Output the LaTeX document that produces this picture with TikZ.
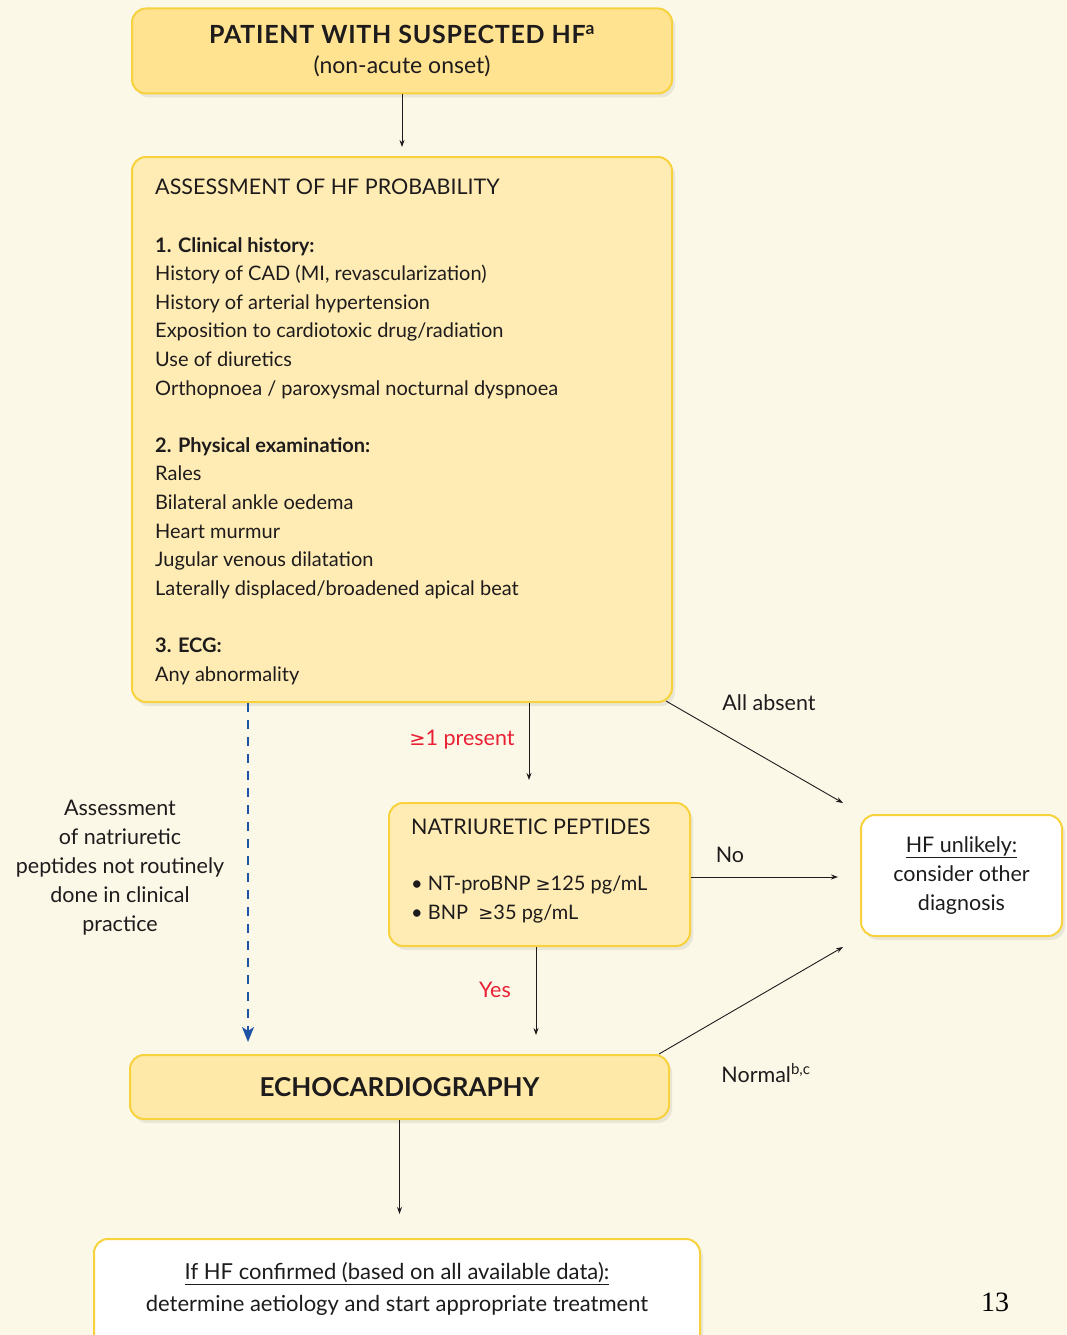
\documentclass[tikz,border=0pt]{standalone}
\usepackage{fontspec}
\setmainfont{Lato}
\newfontfamily\pagefont{Liberation Serif}
\newfontfamily\symfont{DejaVu Sans}
\newcommand{\geqsym}{{\symfont\addfontfeature{Scale=0.9}≥}}
\usetikzlibrary{arrows.meta, positioning, calc, shadows}
\definecolor{paper}{RGB}{252, 248, 232}
\definecolor{ink}{RGB}{30, 27, 28}
\definecolor{gold}{RGB}{247, 210, 60}
\definecolor{yellowA}{RGB}{255, 227, 145}
\definecolor{yellowB}{RGB}{255, 236, 180}
\definecolor{yellowC}{RGB}{255, 233, 168}
\definecolor{alertred}{RGB}{232, 32, 52}
\definecolor{dashblue}{RGB}{30, 82, 165}

\begin{document}
\begin{tikzpicture}[x=1pt, y=-1pt, font=\fontsize{20}{28.7}\selectfont, text=ink,
    box/.style={draw=gold, line width=2pt, rounded corners=14pt,
        drop shadow={opacity=0.15, shadow xshift=3pt, shadow yshift=-4pt}},
    arr/.style={-{Stealth[length=7pt, width=5pt]}, draw=ink, line width=0.9pt},
    lbl/.style={inner sep=0pt, font=\fontsize{21.5}{29}\selectfont}]
        \fill[paper] (0,0) rectangle (1067,1335);
        \useasboundingbox (0,0) rectangle (1067,1335);

        % boxes
        \node[box, fill=yellowA, minimum width=540pt, minimum height=85pt, align=center] (patient) at (402,51)
            {\fontsize{25}{33}\selectfont{\bfseries\addfontfeature{LetterSpace=3}PATIENT WITH SUSPECTED HF\textsuperscript{a}}\\[2pt]
             \fontsize{23}{33}\selectfont(non-acute onset)};
        \node[box, fill=yellowB, minimum width=540pt, minimum height=545pt] (assess) at (402,429.5) {};
        \node[box, fill=yellowB, minimum width=301pt, minimum height=143pt] (natri) at (539.5,874.5) {};
        \node[box, fill=white, minimum width=201pt, minimum height=121pt, align=center,
            font=\fontsize{21.5}{29}\selectfont] (unlikely) at (961.5,875.5)
            {\underline{HF unlikely:}\\consider other\\diagnosis};
        \node[box, fill=yellowC, minimum width=539pt, minimum height=64pt] (echo) at (399.5,1087)
            {\fontsize{26}{30}\selectfont\bfseries ECHOCARDIOGRAPHY};
        \node[box, fill=white, minimum width=606pt, minimum height=111pt] (confirm) at (397,1294.5) {};

        % box texts
        \foreach \y/\txt in {
            187/{\fontsize{21.5}{26}\selectfont ASSESSMENT OF HF PROBABILITY},
            245/{\bfseries 1. Clinical history:},
            273/{History of CAD (MI, revascularization)},
            302/{History of arterial hypertension},
            330/{Exposition to cardiotoxic drug/radiation},
            359/{Use of diuretics},
            388/{Orthopnoea / paroxysmal nocturnal dyspnoea},
            445/{\bfseries 2. Physical examination:},
            473/{Rales},
            502/{Bilateral ankle oedema},
            531/{Heart murmur},
            559/{Jugular venous dilatation},
            588/{Laterally displaced/broadened apical beat},
            645/{\bfseries 3. ECG:},
            674/{Any abnormality}}
        {
            \node[inner sep=0pt, anchor=base west] (assess\y) at (155,{\y+7}) {\txt};
        }
        \node[lbl, anchor=base west] (natrititle) at (411,834) {NATRIURETIC PEPTIDES};
        \node[inner sep=0pt, anchor=base west] (ntpro) at (411,890) {\textbullet{} NT-proBNP \geqsym125 pg/mL};
        \node[inner sep=0pt, anchor=base west] (bnp) at (411,919) {\textbullet{} BNP\ \ \geqsym35 pg/mL};
        \node[inner sep=0pt, align=center, font=\fontsize{22}{32}\selectfont] (confirmtext) at (397,1289)
            {\underline{If HF confirmed (based on all available data):}\\determine aetiology and start appropriate treatment};

        % free ends of connectors
        \coordinate (presentend) at (529,780);
        \coordinate (yesend) at (536,1035);
        \coordinate (dashend) at (248,1042);
        \coordinate (absentend) at (843,803);
        \coordinate (noend) at (838,877);
        \coordinate (normalend) at (843,947);

        % connectors
        \draw[arr, shorten >=9pt] (patient.south) -- (assess.north);
        \draw[arr] (assess.south -| presentend) -- (presentend);
        \draw[arr] (natri.south -| yesend) -- (yesend);
        \draw[-{Stealth[length=15pt, width=12pt, inset=4pt]}, dashblue, line width=1.8pt, dash pattern=on 9pt off 8pt]
            (assess.south -| dashend) -- (dashend);
        \draw[arr] ($(assess.south east)+(-7,-2)$) -- (absentend);
        \draw[arr] (natri.east |- noend) -- (noend);
        \draw[arr] ($(echo.north east)+(-11,0)$) -- (normalend);
        \draw[arr, shorten >=24pt] (echo.south) -- (echo.south |- confirm.north);

        % labels
        \node[lbl, text=alertred] (presentlbl) at (462,740) {\geqsym1 present};
        \node[lbl, text=alertred] (yeslbl) at (495,990) {Yes};
        \node[lbl] (absentlbl) at (769,703) {All absent};
        \node[lbl] (nolbl) at (730,855) {No};
        \node[lbl] (normallbl) at (766,1073) {Normal\textsuperscript{b,c}};
        \node[lbl, align=center] (notroutine) at (120,868)
            {Assessment\\of natriuretic\\peptides not routinely\\done in clinical\\practice};
        \node[inner sep=0pt, font=\pagefont\fontsize{28}{30}\selectfont, text=black] (pagenum) at (995,1302) {13};
\end{tikzpicture}
\end{document}
